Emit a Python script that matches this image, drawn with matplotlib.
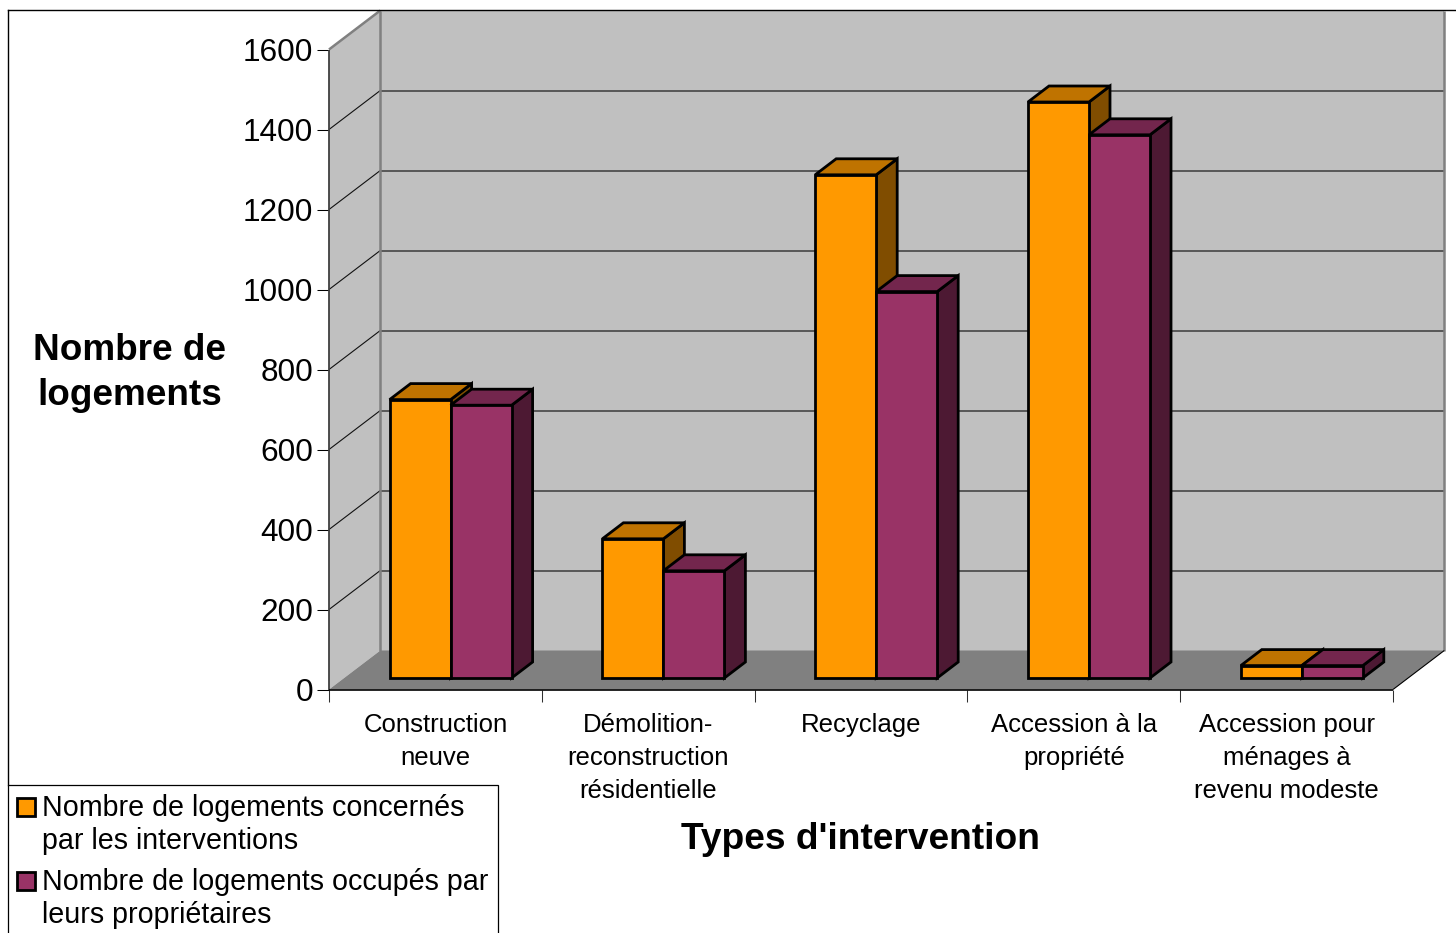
import matplotlib
matplotlib.use("Agg")
import matplotlib.pyplot as plt
from matplotlib.legend_handler import HandlerBase
from matplotlib.lines import Line2D
from matplotlib.patches import Patch, Polygon, Rectangle

plt.rcParams["font.family"] = ["Liberation Sans", "DejaVu Sans"]

categories = [
    "Construction\nneuve",
    "Démolition-\nreconstruction\nrésidentielle",
    "Recyclage",
    "Accession à la\npropriété",
    "Accession pour\nménages à\nrevenu modeste",
]
concernes = [696, 348, 1258, 1440, 31]
occupes = [682, 268, 966, 1358, 31]
series_names = [
    "Nombre de logements concernés\npar les interventions",
    "Nombre de logements occupés par\nleurs propriétaires",
]
y_ticks = [0, 200, 400, 600, 800, 1000, 1200, 1400, 1600]

W, H = 1456, 933
PLOT_L, PLOT_R, PLOT_TOP, PLOT_BOT = 329, 1393, 49.5, 689.5
UX = (PLOT_R - PLOT_L) / 5        # pixels per category
UY = (PLOT_BOT - PLOT_TOP) / 1600  # pixels per logement

WALL_DX, WALL_DY = 51.3 / UX, 39 / UY
BAR_SHIFT_X, BAR_SHIFT_Y = 15.2 / UX, 11.5 / UY
BAR_DX, BAR_DY = 21 / UX, 16 / UY
BAR_W = 61 / UX

ORANGE = ("#FF9900", "#BF7300", "#804D00")
PURPLE = ("#993366", "#73264D", "#4D1933")
GREY_WALL, GREY_FLOOR = "#C0C0C0", "#808080"

fig = plt.figure(figsize=(W / 100, H / 100), dpi=100, facecolor="white")
ax = fig.add_axes([PLOT_L / W, 1 - PLOT_BOT / H,
                   (PLOT_R - PLOT_L) / W, (PLOT_BOT - PLOT_TOP) / H])
ax.set_xlim(0, 5)
ax.set_ylim(0, 1600)
ax.patch.set_visible(False)
for spine in ax.spines.values():
    spine.set_visible(False)


def poly(points, face="none", edge="none", lw=0.0, z=1):
    ax.add_patch(Polygon(points, closed=True, facecolor=face, edgecolor=edge,
                         linewidth=lw, zorder=z, clip_on=False,
                         joinstyle="miter"))


def seg(xs, ys, color, lw, z=2):
    ax.add_line(Line2D(xs, ys, color=color, linewidth=lw, zorder=z,
                       clip_on=False, solid_capstyle="butt"))


# Walls and floor of the 3D box
poly([(WALL_DX, WALL_DY), (5 + WALL_DX, WALL_DY),
      (5 + WALL_DX, 1600 + WALL_DY), (WALL_DX, 1600 + WALL_DY)], GREY_WALL)
poly([(0, 0), (WALL_DX, WALL_DY), (WALL_DX, 1600 + WALL_DY), (0, 1600)], GREY_WALL)
poly([(0, 0), (5, 0), (5 + WALL_DX, WALL_DY), (WALL_DX, WALL_DY)], GREY_FLOOR)

# Gridlines on the back and side walls
for t in y_ticks[1:-1]:
    seg([WALL_DX, 5 + WALL_DX], [t + WALL_DY, t + WALL_DY], "#505050", 1.3)
    seg([0, WALL_DX], [t, t + WALL_DY], "#111111", 0.8)

# Box edges
seg([WALL_DX, WALL_DX], [WALL_DY, 1600 + WALL_DY], GREY_FLOOR, 1.8)
seg([5 + WALL_DX, 5 + WALL_DX], [WALL_DY, 1600 + WALL_DY], GREY_FLOOR, 1.8)
seg([0, WALL_DX], [1600, 1600 + WALL_DY], GREY_FLOOR, 1.8)
seg([0, 0], [0, 1600], "#404040", 1.3)
seg([0, 5], [0, 0], "black", 1.2)
seg([5, 5 + WALL_DX], [0, WALL_DY], "black", 0.8)


def bar3d(x0, value, colors, z):
    x1 = x0 + BAR_W
    base = BAR_SHIFT_Y
    top = base + value
    kw = dict(edge="black", lw=2.0, z=z)
    poly([(x1, base), (x1 + BAR_DX, base + BAR_DY),
          (x1 + BAR_DX, top + BAR_DY), (x1, top)], colors[2], **kw)
    poly([(x0, top), (x1, top), (x1 + BAR_DX, top + BAR_DY),
          (x0 + BAR_DX, top + BAR_DY)], colors[1], **kw)
    poly([(x0, base), (x1, base), (x1, top), (x0, top)], colors[0], **kw)


for i, (a, b) in enumerate(zip(concernes, occupes)):
    centre = i + 0.5 + BAR_SHIFT_X
    bar3d(centre - BAR_W, a, ORANGE, 3 + 2 * i)
    bar3d(centre, b, PURPLE, 4 + 2 * i)

# Axes ticks and labels
ax.set_yticks(y_ticks)
ax.tick_params(axis="y", length=8.6, width=0.75, pad=2.9, labelsize=22.7, color="black")
ax.set_xticks(range(6))
ax.set_xticklabels([])
ax.tick_params(axis="x", which="major", length=8.6, width=0.75, color="#303030")
ax.set_xticks([i + 0.5 for i in range(5)], minor=True)
ax.set_xticklabels(categories, minor=True, fontsize=18.5, linespacing=1.46)
ax.tick_params(axis="x", which="minor", length=0, pad=17)

ax.set_xlabel("Types d'intervention", fontsize=26.7, fontweight="bold", va="center")
ax.xaxis.set_label_coords(0.4995, -(839.5 - PLOT_BOT) / (PLOT_BOT - PLOT_TOP))
ax.set_ylabel("Nombre de\nlogements", fontsize=26.6, fontweight="bold", rotation=0,
              ha="center", va="center", linespacing=1.38)
ax.yaxis.set_label_coords((129.5 - PLOT_L) / (PLOT_R - PLOT_L),
                          (PLOT_BOT - 373) / (PLOT_BOT - PLOT_TOP))

# Chart frame along the left and top
fig.add_artist(Line2D([8 / W, 8 / W], [1 - 785 / H, 1 - 10 / H], color="black", lw=1.0))
fig.add_artist(Line2D([8 / W, 1], [1 - 10 / H, 1 - 10 / H], color="black", lw=1.0))
fig.add_artist(Rectangle((8 / W, -3 / H), 490 / W, (H - 785 + 3) / H, facecolor="white",
                         edgecolor="black", linewidth=0.9, zorder=3,
                         transform=fig.transFigure))


class TopSwatch(HandlerBase):
    """Square key aligned with the first line of a two-line label."""

    def create_artists(self, legend, orig_handle, xdescent, ydescent, width,
                       height, fontsize, trans):
        size = 13.0
        rect = Rectangle((0, 14), size, size, facecolor=orig_handle.get_facecolor(),
                         edgecolor="black", linewidth=2.0, transform=trans)
        return [rect]


handles = [Patch(facecolor=ORANGE[0]), Patch(facecolor=PURPLE[0])]
leg = fig.legend(handles, series_names, loc="lower left",
                 bbox_to_anchor=(8 / W, -5 / H), borderaxespad=0,
                 fontsize=20.6, frameon=False,
                 handler_map={Patch: TopSwatch()},
                 handlelength=0.65, handletextpad=0.22, borderpad=0.32,
                 labelspacing=0.47)
for text in leg.get_texts():
    text.set_linespacing(1.22)

fig.savefig("out.png", dpi=100)
